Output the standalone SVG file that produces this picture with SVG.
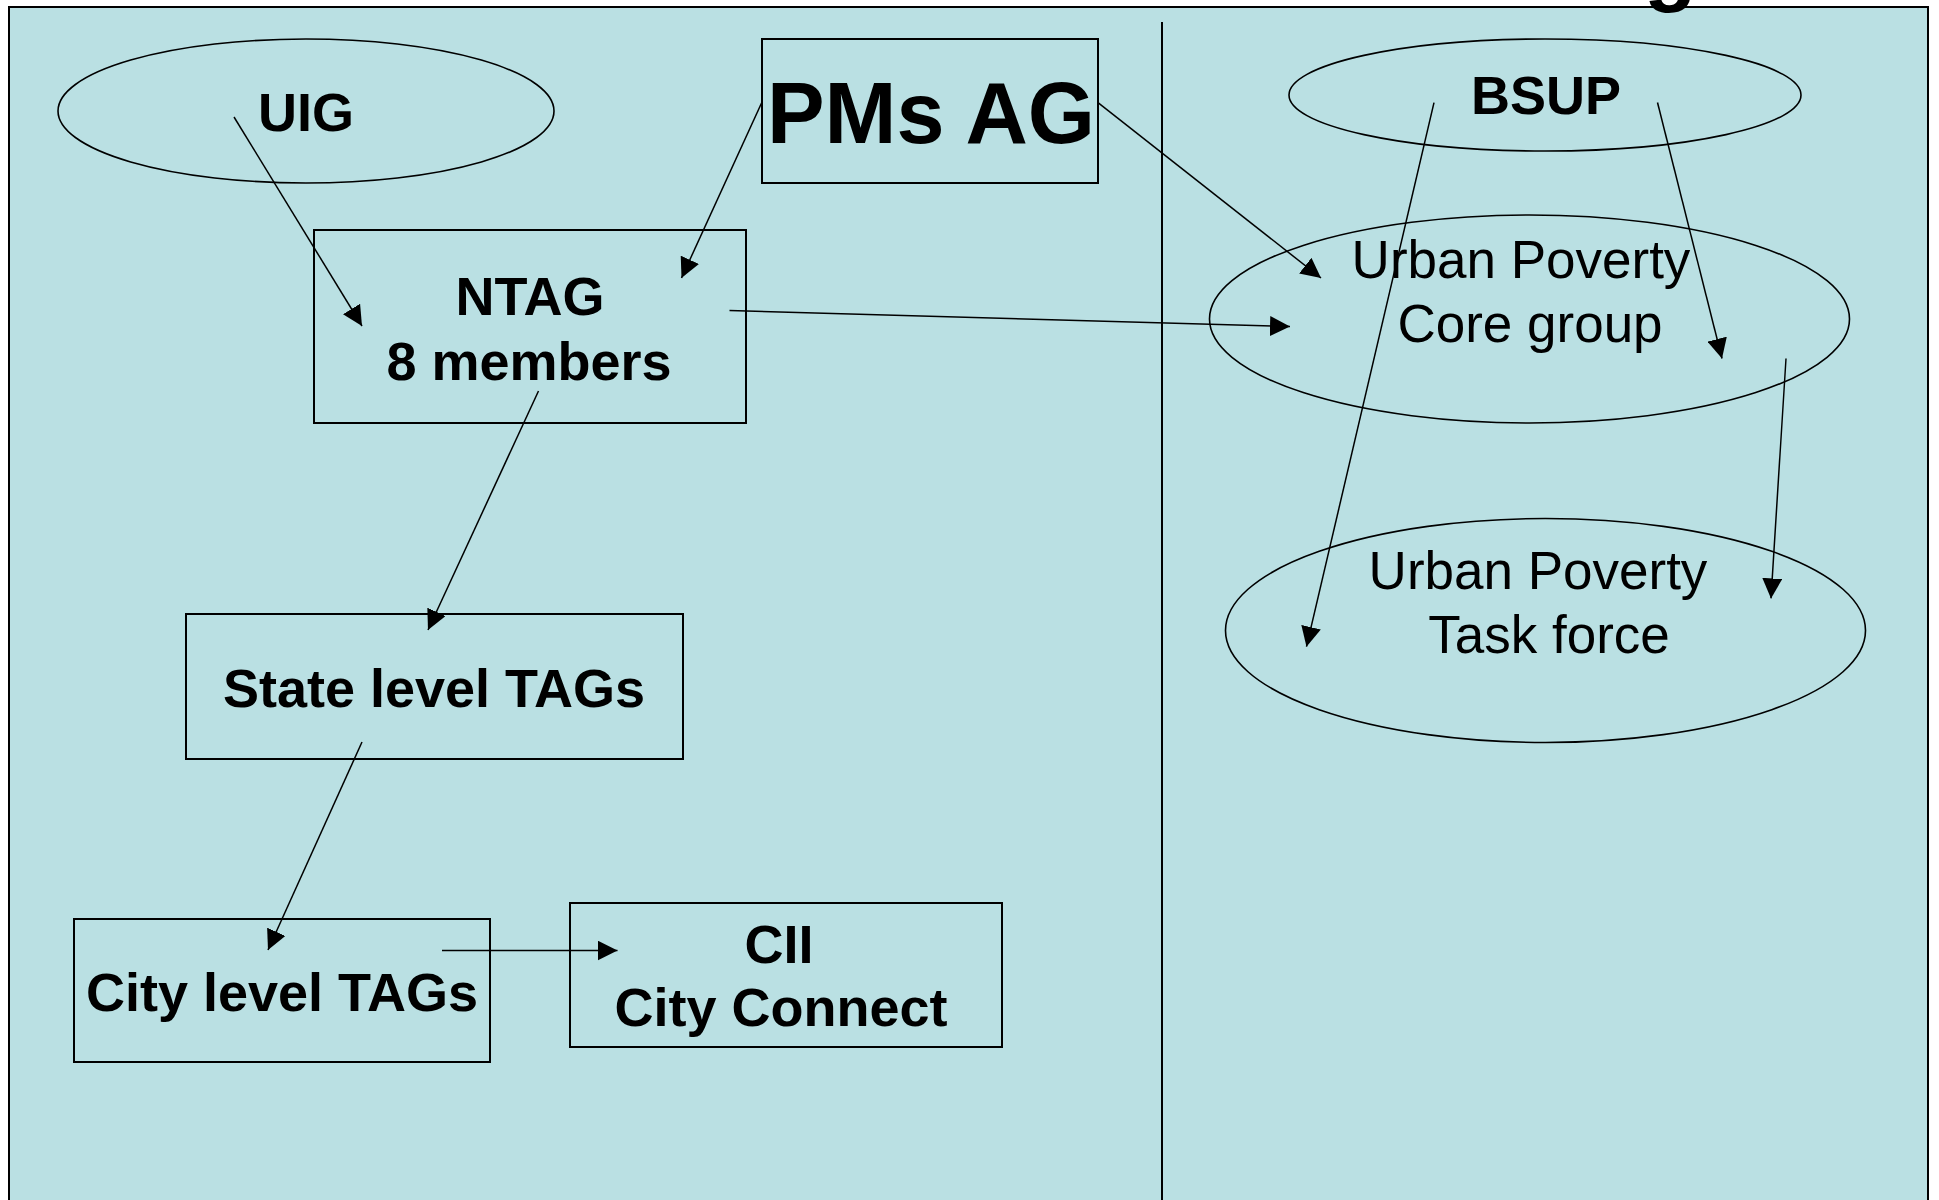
<svg xmlns="http://www.w3.org/2000/svg" width="1939" height="1200" viewBox="0 0 1939 1200">
  <defs>
    <marker id="arrow" markerUnits="userSpaceOnUse" markerWidth="20" markerHeight="20" refX="20" refY="10" orient="auto">
      <path d="M0,0 L20,10 L0,20 Z" fill="#000"/>
    </marker>
    <style>
      .node { fill: none; stroke: #000; stroke-width: 2; }
      .oval { fill: none; stroke: #000; stroke-width: 1.6; }
      .b { font-family: "Liberation Sans", Arial, sans-serif; font-weight: bold; font-size: 54px; fill: #000; text-anchor: middle; }
      .r { font-family: "Liberation Sans", Arial, sans-serif; font-weight: normal; font-size: 53px; fill: #000; text-anchor: middle; }
      .conn line { stroke: #000; stroke-width: 1.5; marker-end: url(#arrow); }
    </style>
  </defs>
  <rect x="0" y="0" width="1939" height="1200" fill="#ffffff"/>
  <g id="background">
    <rect x="9" y="7" width="1919" height="1300" fill="#bae0e3" stroke="#000" stroke-width="2"/>
    <line x1="1162" y1="22" x2="1162" y2="1210" stroke="#000" stroke-width="2"/>
    <text x="1644" y="-5" font-family="Liberation Sans, Arial, sans-serif" font-weight="bold" font-size="86" fill="#000">g</text>
  </g>
  <g id="node-uig">
    <ellipse class="oval" cx="306" cy="111" rx="248" ry="72"/>
    <text class="b" x="306" y="131">UIG</text>
  </g>
  <g id="node-pmsag">
    <rect class="node" x="762" y="39" width="336" height="144"/>
    <text class="b" x="931" y="143" style="font-size:88px" textLength="328" lengthAdjust="spacingAndGlyphs">PMs AG</text>
  </g>
  <g id="node-ntag">
    <rect class="node" x="314" y="230" width="432" height="193"/>
    <text class="b" x="530" y="315">NTAG</text>
    <text class="b" x="529" y="380">8 members</text>
  </g>
  <g id="node-state">
    <rect class="node" x="186" y="614" width="497" height="145"/>
    <text class="b" x="434" y="707">State level TAGs</text>
  </g>
  <g id="node-city">
    <rect class="node" x="74" y="919" width="416" height="143"/>
    <text class="b" x="282" y="1011">City level TAGs</text>
  </g>
  <g id="node-cii">
    <rect class="node" x="570" y="903" width="432" height="144"/>
    <text class="b" x="779" y="963">CII</text>
    <text class="b" x="781" y="1026">City Connect</text>
  </g>
  <g id="node-bsup">
    <ellipse class="oval" cx="1545" cy="95" rx="256" ry="56"/>
    <text class="b" x="1546" y="114">BSUP</text>
  </g>
  <g id="node-core">
    <ellipse class="oval" cx="1529.5" cy="319" rx="320" ry="104"/>
    <text class="r" x="1521" y="278">Urban Poverty</text>
    <text class="r" x="1530" y="342">Core group</text>
  </g>
  <g id="node-task">
    <ellipse class="oval" cx="1545.5" cy="630.5" rx="320" ry="112"/>
    <text class="r" x="1538" y="589">Urban Poverty</text>
    <text class="r" x="1549" y="653">Task force</text>
  </g>
  <g id="connectors" class="conn">
    <line x1="234" y1="117" x2="362" y2="326"/>
    <line x1="762" y1="102" x2="681.5" y2="278"/>
    <line x1="1098" y1="102.7" x2="1321" y2="278"/>
    <line x1="729.5" y1="310.5" x2="1290" y2="326.6"/>
    <line x1="538.5" y1="391" x2="428" y2="630"/>
    <line x1="362" y1="742" x2="268" y2="950"/>
    <line x1="442" y1="950.5" x2="617.5" y2="950.5"/>
    <line x1="1434" y1="102.6" x2="1306.5" y2="646.7"/>
    <line x1="1657.5" y1="102.5" x2="1722" y2="358.5"/>
    <line x1="1786" y1="358.5" x2="1771" y2="598.4"/>
  </g>
</svg>
